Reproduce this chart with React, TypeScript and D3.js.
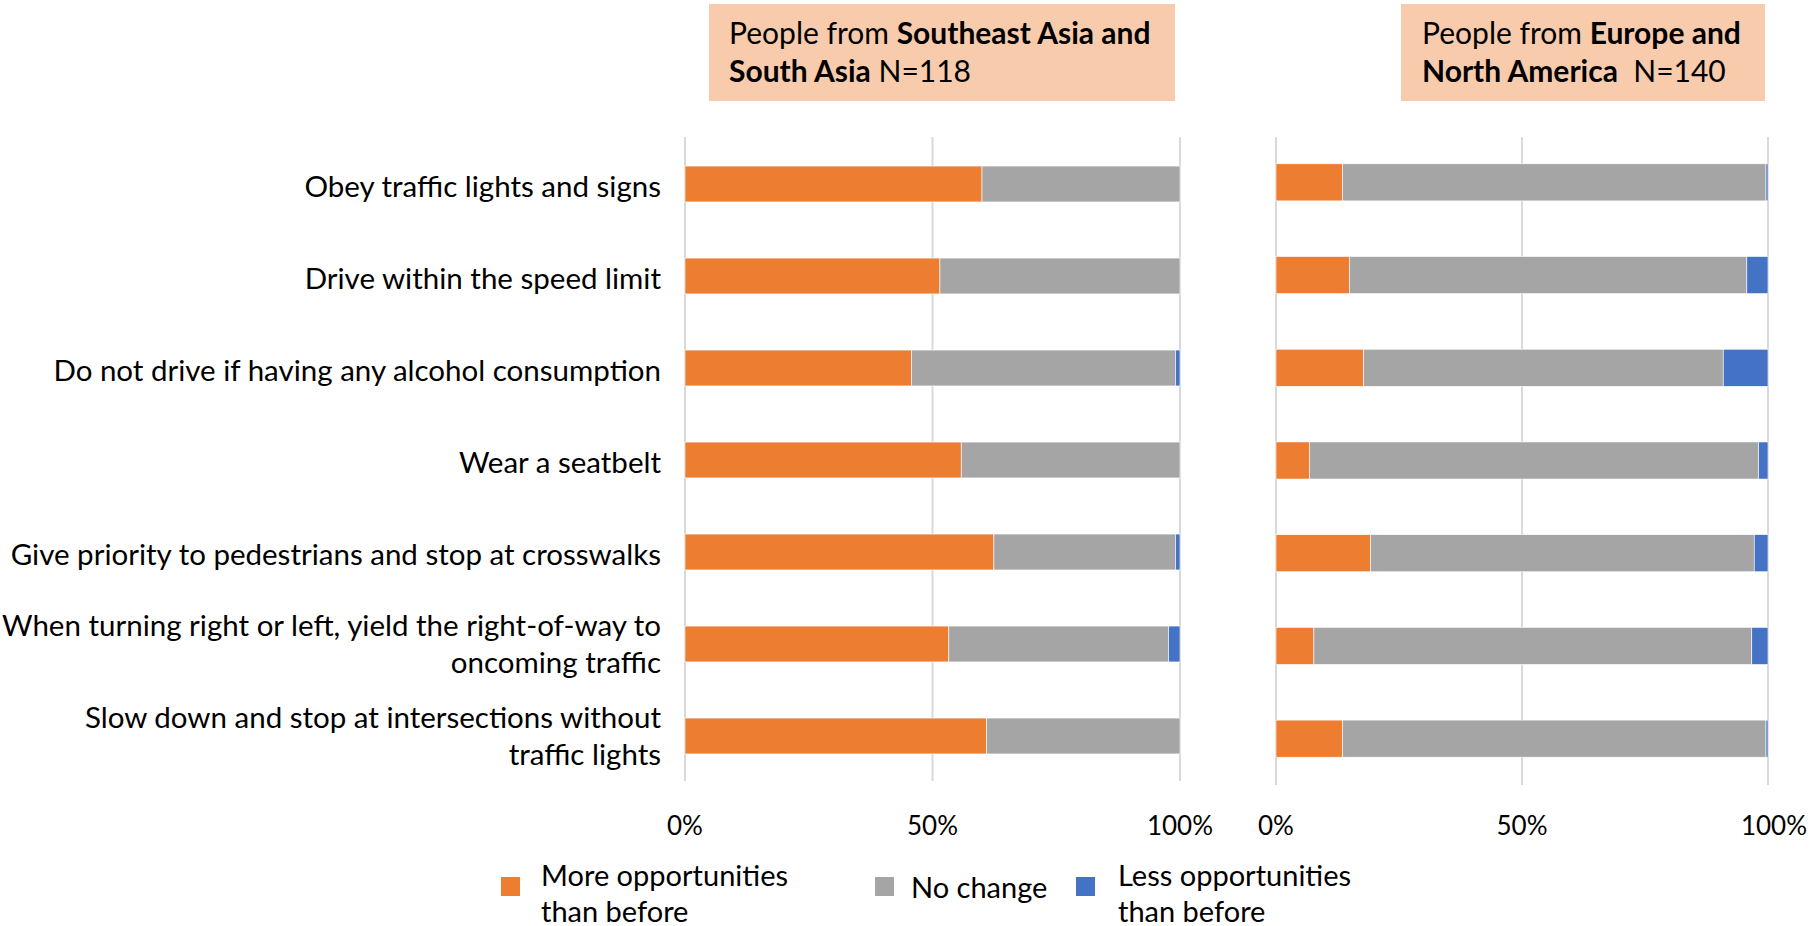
import React from "react";
import * as d3 from "d3";

const categories: string[][] = [
  ["Obey traffic lights and signs"],
  ["Drive within the speed limit"],
  ["Do not drive if having any alcohol consumption"],
  ["Wear a seatbelt"],
  ["Give priority to pedestrians and stop at crosswalks"],
  ["When turning right or left, yield the right-of-way to", "oncoming traffic"],
  ["Slow down and stop at intersections without", "traffic lights"],
];

const seriesKeys = ["more", "noChange", "less"];
const seriesNames: string[][] = [
  ["More opportunities", "than before"],
  ["No change"],
  ["Less opportunities", "than before"],
];
const seriesColors = ["#ED7D31", "#A5A5A5", "#4472C4"];

// Southeast Asia and South Asia (N=118), percentages
const asiaMore = [60.0, 51.5, 45.8, 55.8, 62.4, 53.3, 60.9];
const asiaNoChange = [40.0, 48.5, 53.3, 44.2, 36.7, 44.4, 39.1];
const asiaLess = [0, 0, 0.9, 0, 0.9, 2.3, 0];

// Europe and North America (N=140), percentages
const euMore = [13.5, 14.9, 17.8, 6.8, 19.2, 7.7, 13.5];
const euNoChange = [86.1, 80.8, 73.1, 91.3, 78.0, 89.0, 86.1];
const euLess = [0.4, 4.3, 9.1, 1.9, 2.8, 3.3, 0.4];

const tickValues = [0, 50, 100];
const tickLabels = ["0%", "50%", "100%"];

const FONT = "Lato, 'Open Sans', sans-serif";

type PanelProps = {
  xr: [number, number];
  yr: [number, number];
  padding: number;
  more: number[];
  noChange: number[];
  less: number[];
  gridTop: number;
  gridBottom: number;
  tickY: number;
  lastTickDx?: number;
};

function Panel({ xr, yr, padding, more, noChange, less, gridTop, gridBottom, tickY, lastTickDx = 0 }: PanelProps) {
  const x = d3.scaleLinear().domain([0, 100]).range(xr);
  const idx = categories.map((_, i) => String(i));
  const y = d3.scaleBand().domain(idx).range(yr).paddingInner(padding).paddingOuter(padding / 2);
  const rows = categories.map((_, i) => ({ more: more[i], noChange: noChange[i], less: less[i] }));
  const stacked = d3.stack<any>().keys(seriesKeys)(rows);
  return (
    <g>
      {tickValues.map((t) => (
        <line key={t} x1={x(t)} x2={x(t)} y1={gridTop} y2={gridBottom} stroke="#D9D9D9" strokeWidth={2} />
      ))}
      {stacked.map((s, si) => (
        <g key={s.key} fill={seriesColors[si]}>
          {s.map((d, i) => (
            <rect
              key={i}
              x={x(d[0])}
              y={y(String(i))!}
              width={Math.max(0, x(d[1]) - x(d[0]))}
              height={y.bandwidth()}
              stroke="#ffffff"
              strokeWidth={0.6}
            />
          ))}
        </g>
      ))}
      {tickValues.map((t, i) => (
        <text
          key={t}
          x={x(t) + (i === tickValues.length - 1 ? lastTickDx : 0)}
          y={tickY}
          textAnchor="middle"
          dominantBaseline="central"
          fontFamily={FONT}
          fontSize={26}
          fill="#000"
        >
          {tickLabels[i]}
        </text>
      ))}
    </g>
  );
}

export default function App() {
  const W = 1819;
  const H = 926;
  const yL = d3.scaleBand().domain(categories.map((_, i) => String(i))).range([138, 782]);
  return (
    <div style={{ position: "absolute", left: 0, top: 0 }}>
      <svg width={W} height={H} viewBox={`0 0 ${W} ${H}`} style={{ display: "block", background: "#fff" }}>
        {/* Titles */}
        <rect x={709} y={4} width={466} height={97} fill="#F8CBAD" />
        <text x={729} y={44} fontFamily={FONT} fontSize={30} fill="#000">
          People from <tspan fontWeight="bold">Southeast Asia and</tspan>
        </text>
        <text x={729} y={82} fontFamily={FONT} fontSize={30} fill="#000">
          <tspan fontWeight="bold">South Asia</tspan> N=118
        </text>
        <rect x={1401} y={4} width={364} height={97} fill="#F8CBAD" />
        <text x={1422} y={44} fontFamily={FONT} fontSize={30} fill="#000">
          People from <tspan fontWeight="bold">Europe and</tspan>
        </text>
        <text x={1422} y={82} fontFamily={FONT} fontSize={30} fill="#000" style={{ whiteSpace: "pre" }}>
          <tspan fontWeight="bold">North America</tspan>{"  N=140"}
        </text>

        {/* Category labels */}
        {categories.map((lines, i) => {
          const cy = yL(String(i))! + yL.bandwidth() / 2 + (lines.length === 1 ? 1 : -1);
          const lh = 37;
          const start = cy - ((lines.length - 1) * lh) / 2;
          return (
            <text key={i} textAnchor="end" fontFamily={FONT} fontSize={29.5} fill="#000">
              {lines.map((ln, j) => (
                <tspan key={j} x={661} y={start + j * lh} dominantBaseline="central">
                  {ln}
                </tspan>
              ))}
            </text>
          );
        })}

        <Panel
          xr={[685, 1180]}
          yr={[138, 782]}
          padding={0.61}
          more={asiaMore}
          noChange={asiaNoChange}
          less={asiaLess}
          gridTop={137}
          gridBottom={781}
          tickY={825}
        />
        <Panel
          xr={[1276, 1768]}
          yr={[136, 785]}
          padding={0.6}
          more={euMore}
          noChange={euNoChange}
          less={euLess}
          gridTop={137}
          gridBottom={785}
          tickY={825}
          lastTickDx={6}
        />

        {/* Legend */}
        {seriesNames.map((lines, i) => {
          const lx = [501, 875, 1076][i];
          const tx = [541, 911, 1118][i];
          const lh = 36;
          const start = lines.length === 1 ? 886 : 874;
          return (
            <g key={i}>
              <rect x={lx} y={877} width={19} height={19} fill={seriesColors[i]} />
              <text fontFamily={FONT} fontSize={29} fill="#000">
                {lines.map((ln, j) => (
                  <tspan key={j} x={tx} y={start + j * lh} dominantBaseline="central">
                    {ln}
                  </tspan>
                ))}
              </text>
            </g>
          );
        })}
      </svg>
    </div>
  );
}
